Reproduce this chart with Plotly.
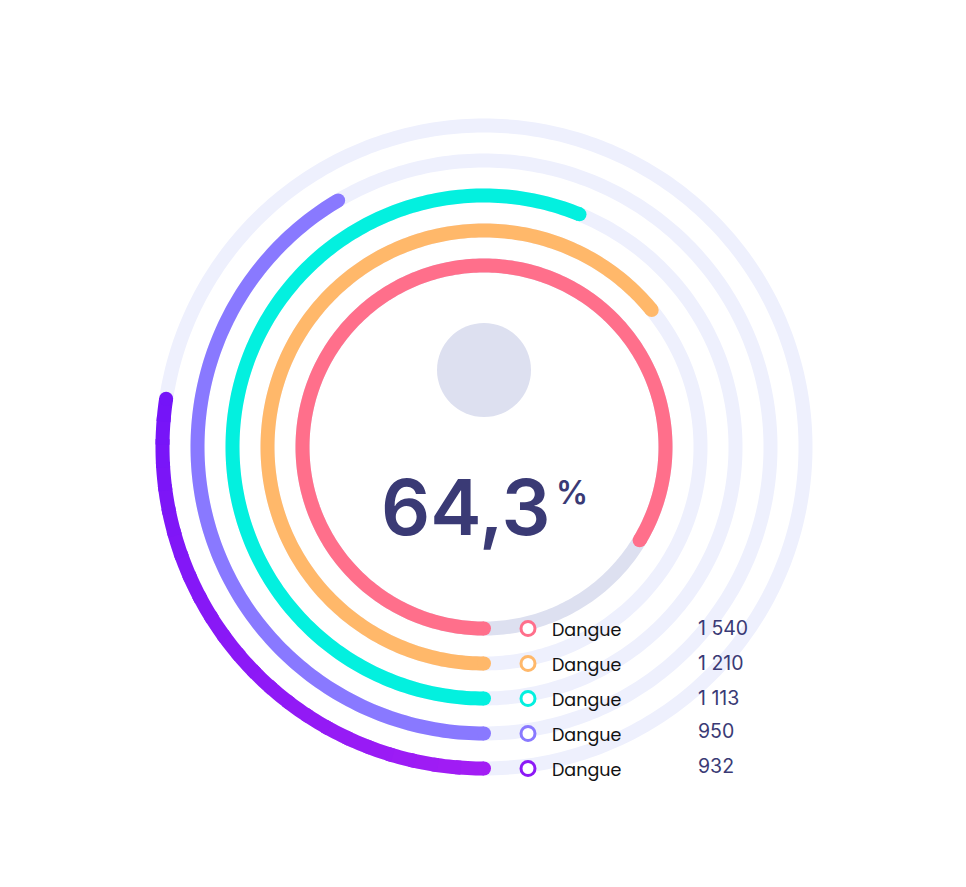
import numpy as np
import plotly.graph_objects as go

# ---------------- data ----------------
names = ["Dangue", "Dangue", "Dangue", "Dangue", "Dangue"]
values = [1540, 1210, 1113, 950, 932]
value_labels = ["1 540", "1 210", "1 113", "950", "932"]
arc_pct = [83.6, 64.1, 56.2, 41.5, 27.4]   # share of the full circle covered by each arc
center_value = "64,3"
center_unit = "%"

# ---------------- style ----------------
colors = ["#FF6F8B", "#FFB86A", "#03F0DF", "#8979FF", "#8E18F6"]
purple_grad = ("#A31DF4", "#7414F8")
track_colors = ["#DDE0F0", "#EEF0FD", "#EEF0FD", "#EEF0FD", "#EEF0FD"]
W, H = 966, 887
OFF = 8                      # page body margin
CX, CY = 484 - OFF, 447 - OFF
RMAX = 340
R0, DR = 181.5, 35
LW = 14
navy = "#3A3A75"
label_font = "Poppins, 'Open Sans', sans-serif"
num_font = "Inter, Roboto, sans-serif"

radii = [R0 + DR * i for i in range(len(values))]


def mix(c1, c2, t):
    a = [int(c1[i:i + 2], 16) for i in (1, 3, 5)]
    b = [int(c2[i:i + 2], 16) for i in (1, 3, 5)]
    return "#%02X%02X%02X" % tuple(round(a[k] + (b[k] - a[k]) * t) for k in range(3))


fig = go.Figure()

# background tracks
for r, tc in zip(radii, track_colors):
    th = np.linspace(0, 360, 361)
    fig.add_trace(go.Scatterpolar(r=[r] * len(th), theta=th, mode="lines",
                                  line=dict(color=tc, width=LW), hoverinfo="skip",
                                  showlegend=False))

# value arcs
for i, (r, p, c) in enumerate(zip(radii, arc_pct, colors)):
    end = p * 3.6
    if i == len(values) - 1:
        nseg = 24
        edges = np.linspace(0, end, nseg + 1)
        for k in range(nseg):
            th = np.linspace(edges[k], min(edges[k + 1] + 1.0, end), 8)
            col = mix(purple_grad[0], purple_grad[1], (k + 0.5) / nseg)
            fig.add_trace(go.Scatterpolar(r=[r] * len(th), theta=th, mode="lines",
                                          line=dict(color=col, width=LW),
                                          hoverinfo="skip", showlegend=False))
        cap_cols = [purple_grad[0], purple_grad[1]]
    else:
        th = np.linspace(0, end, max(int(end), 2) + 1)
        fig.add_trace(go.Scatterpolar(r=[r] * len(th), theta=th, mode="lines",
                                      line=dict(color=c, width=LW), name=names[i],
                                      hoverinfo="skip", showlegend=False))
        cap_cols = [c, c]
    fig.add_trace(go.Scatterpolar(r=[r, r], theta=[0, end], mode="markers",
                                  marker=dict(size=LW, color=cap_cols, line=dict(width=0)),
                                  hoverinfo="skip", showlegend=False))

# grey dot in the centre
fig.add_trace(go.Scatterpolar(r=[77], theta=[180], mode="markers",
                              marker=dict(size=94, color="#DDE0F0", line=dict(width=0)),
                              hoverinfo="skip", showlegend=False))

fig.update_layout(
    width=W, height=H,
    margin=dict(l=0, r=0, t=0, b=0),
    paper_bgcolor="white", plot_bgcolor="rgba(0,0,0,0)",
    showlegend=False,
    polar=dict(
        domain=dict(x=[(CX - RMAX) / W, (CX + RMAX) / W],
                    y=[(H - CY - RMAX) / H, (H - CY + RMAX) / H]),
        bgcolor="rgba(0,0,0,0)",
        radialaxis=dict(range=[0, RMAX], visible=False, showgrid=False),
        angularaxis=dict(rotation=-90, direction="clockwise", visible=False,
                         showgrid=False, showline=False, ticks=""),
    ),
    xaxis=dict(range=[0, W], visible=False, domain=[0, 1], fixedrange=True),
    yaxis=dict(range=[H, 0], visible=False, domain=[0, 1], fixedrange=True),
)

# invisible anchor trace for the overlay axes
fig.add_trace(go.Scatter(x=[0, W], y=[0, H], mode="markers", marker=dict(opacity=0),
                         hoverinfo="skip", showlegend=False))

# legend rows
shapes = []
annotations = []
LX = 528 - OFF
for i, (r, c) in enumerate(zip(radii, colors)):
    y = CY + r
    lc = mix(purple_grad[0], purple_grad[1], 0.5) if i == len(values) - 1 else c
    shapes.append(dict(type="circle", xref="x", yref="y", layer="above",
                       x0=LX - 7, x1=LX + 7, y0=y - 7, y1=y + 7,
                       fillcolor="white", line=dict(color=lc, width=3)))
    annotations.append(dict(x=LX + 22, y=y + 1, xref="x", yref="y", text=names[i],
                            showarrow=False, xanchor="left", yanchor="middle",
                            font=dict(family=label_font, size=17.5, color="#111111")))
    annotations.append(dict(x=LX + 168, y=y - 1 - (2 if i >= 3 else 0), xref="x", yref="y",
                            text=value_labels[i], showarrow=False, xanchor="left",
                            yanchor="middle",
                            font=dict(family=num_font, size=19.5, color=navy)))

annotations.append(dict(x=CX + 69, y=CY + 60, xref="x", yref="y", text=center_value,
                        showarrow=False, xanchor="right", yanchor="middle",
                        font=dict(family=num_font, size=77, color=navy, weight=600)))
annotations.append(dict(x=CX + 70, y=CY + 45, xref="x", yref="y", text=center_unit,
                        showarrow=False, xanchor="left", yanchor="middle",
                        font=dict(family=num_font, size=32, color=navy, weight=600)))

fig.update_layout(shapes=shapes, annotations=annotations)
fig.write_html("out.html")
